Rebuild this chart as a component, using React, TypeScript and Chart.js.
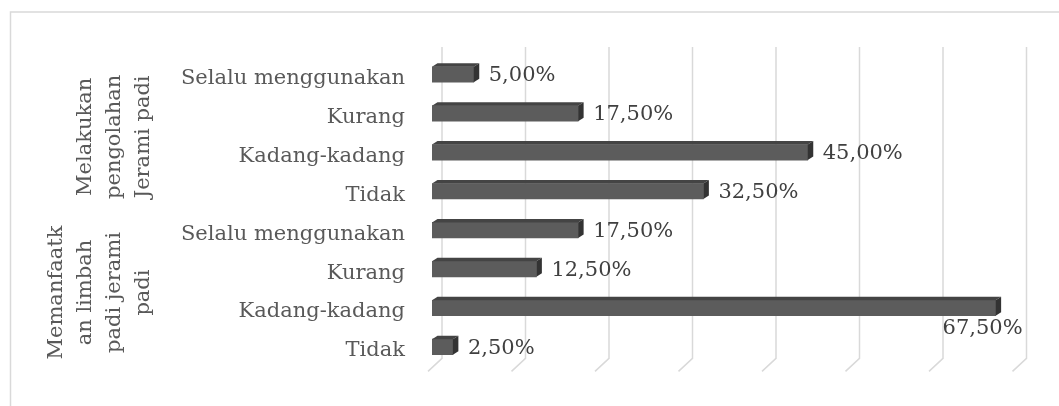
import React, { useEffect, useRef } from 'react';
import { Chart, registerables } from 'chart.js';

Chart.register(...registerables);

const categories = [
  'Selalu menggunakan',
  'Kurang',
  'Kadang-kadang',
  'Tidak',
  'Selalu menggunakan',
  'Kurang',
  'Kadang-kadang',
  'Tidak',
];
const values = [5, 17.5, 45, 32.5, 17.5, 12.5, 67.5, 2.5];
const groupLabels = [
  ['Melakukan', 'pengolahan', 'Jerami padi'],
  ['Memanfaatk', 'an limbah', 'padi jerami', 'padi'],
];
const groupSizes = [4, 4];
const gridValues = [0, 10, 20, 30, 40, 50, 60, 70];

const FONT = '"DejaVu Serif", serif';

function fmt(v: number) {
  return v.toFixed(2).replace('.', ',') + '%';
}

export default function App() {
  const ref = useRef<HTMLCanvasElement>(null);

  useEffect(() => {
    const threeD = {
      id: 'threeD',
      beforeDraw(chart: any) {
        const ctx = chart.ctx;
        ctx.save();
        ctx.strokeStyle = '#d9d9d9';
        ctx.lineWidth = 1.5;
        ctx.beginPath();
        ctx.moveTo(10.5, 406);
        ctx.lineTo(10.5, 12);
        ctx.lineTo(1059, 12);
        ctx.stroke();
        ctx.restore();
      },
      beforeDatasetsDraw(chart: any) {
        const ctx = chart.ctx;
        const xs = chart.scales.x;
        ctx.save();
        ctx.strokeStyle = '#d9d9d9';
        ctx.lineWidth = 1.5;
        const top = chart.chartArea.top - 8;
        const bottom = chart.chartArea.bottom - 8;
        for (const v of gridValues) {
          const fx = xs.getPixelForValue(v);
          ctx.beginPath();
          ctx.moveTo(fx + 10, top);
          ctx.lineTo(fx + 10, bottom);
          ctx.lineTo(fx - 4, bottom + 13);
          ctx.stroke();
        }
        ctx.restore();
      },
      afterDatasetsDraw(chart: any) {
        const ctx = chart.ctx;
        const meta = chart.getDatasetMeta(0);
        const dx = 5.5;
        const dy = 3.5;
        ctx.save();
        meta.data.forEach((bar: any, i: number) => {
          const { x, y, base, height } = bar.getProps(['x', 'y', 'base', 'height'], true);
          const t = y - height / 2;
          const b = y + height / 2;
          // top face
          ctx.fillStyle = '#444444';
          ctx.beginPath();
          ctx.moveTo(base, t);
          ctx.lineTo(base + dx, t - dy);
          ctx.lineTo(x + dx, t - dy);
          ctx.lineTo(x, t);
          ctx.closePath();
          ctx.fill();
          // side face
          ctx.fillStyle = '#333333';
          ctx.beginPath();
          ctx.moveTo(x, t);
          ctx.lineTo(x + dx, t - dy);
          ctx.lineTo(x + dx, b - dy);
          ctx.lineTo(x, b);
          ctx.closePath();
          ctx.fill();

          // data label
          const label = fmt(values[i]);
          ctx.font = '21px ' + FONT;
          ctx.fillStyle = '#404040';
          const w = ctx.measureText(label).width;
          if (x + 15 + w > chart.width - 5) {
            ctx.textAlign = 'right';
            ctx.textBaseline = 'middle';
            ctx.fillText(label, x + 27, y + 21);
          } else {
            ctx.textAlign = 'left';
            ctx.textBaseline = 'middle';
            ctx.fillText(label, x + 15, y + 1.5);
          }
        });

        // group labels (rotated)
        const ys = chart.scales.y;
        let start = 0;
        ctx.fillStyle = '#595959';
        ctx.font = '21px ' + FONT;
        ctx.textAlign = 'center';
        ctx.textBaseline = 'alphabetic';
        groupLabels.forEach((lines, g) => {
          const end = start + groupSizes[g] - 1;
          const cy = (ys.getPixelForValue(start) + ys.getPixelForValue(end)) / 2 + 4;
          const n = lines.length;
          lines.forEach((line, i) => {
            const bx = 149 - (n - 1 - i) * 29;
            ctx.save();
            ctx.translate(bx, cy);
            ctx.rotate(-Math.PI / 2);
            ctx.fillText(line, 0, 0);
            ctx.restore();
          });
          start += groupSizes[g];
        });
        ctx.restore();
      },
    };

    const chart = new Chart(ref.current as HTMLCanvasElement, {
      type: 'bar',
      data: {
        labels: categories,
        datasets: [
          {
            data: values,
            backgroundColor: '#5c5c5c',
            borderWidth: 0,
            barThickness: 15.5,
          },
        ],
      },
      options: {
        indexAxis: 'y',
        animation: false,
        responsive: true,
        maintainAspectRatio: false,
        layout: { padding: { top: 55, bottom: 35, left: 0, right: 42.5 } },
        plugins: {
          legend: { display: false },
          tooltip: { enabled: false },
          title: { display: false },
        },
        scales: {
          x: {
            type: 'linear',
            min: 0,
            max: 70,
            display: false,
          },
          y: {
            type: 'category',
            grid: { display: false, drawTicks: false },
            border: { display: false },
            ticks: {
              color: '#595959',
              font: { family: FONT, size: 21 },
              padding: 27,
              labelOffset: 4,
              autoSkip: false,
            },
            afterFit(scale: any) {
              scale.width = 432;
            },
          },
        },
      },
      plugins: [threeD],
    });
    return () => chart.destroy();
  }, []);

  return (
    <div style={{ position: 'absolute', left: 0, top: 0, width: 1059, height: 406 }}>
      <canvas ref={ref} />
    </div>
  );
}
